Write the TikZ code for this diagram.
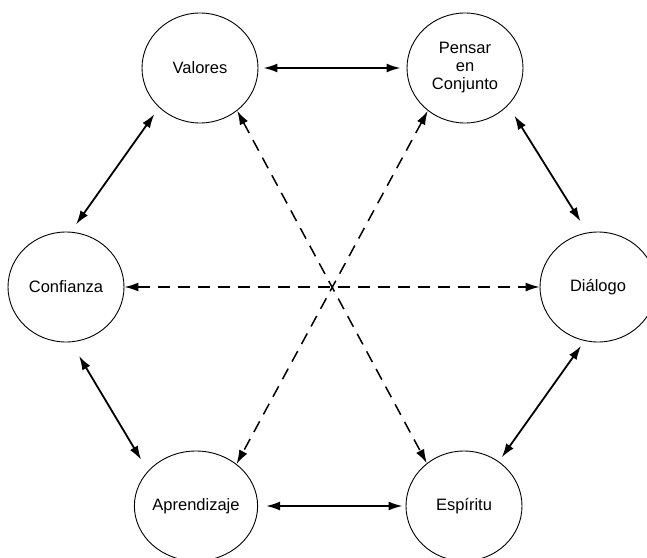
\documentclass[tikz,border=0pt]{standalone}
\usepackage{fontspec}
\setmainfont{Liberation Sans}
\usetikzlibrary{arrows.meta,shapes.geometric}

\tikzset{
  tip/.style={Latex[length=14pt,width=9pt]},
  topic/.style={ellipse, draw, line width=0.9pt, minimum width=116pt,
    minimum height=110pt, inner sep=0pt, align=center,
    font=\fontsize{16.5}{18}\selectfont},
  link/.style={line width=1.8pt, {Latex[length=14pt,width=9pt]}-{Latex[length=14pt,width=9pt]}},
  cross/.style={line width=1.5pt, dash pattern=on 12pt off 8pt,
    {Latex[length=14pt,width=9pt]}-{Latex[length=14pt,width=9pt]}}
}

\begin{document}
\begin{tikzpicture}[x=1pt,y=-1pt]
  \useasboundingbox (0,0) rectangle (647,557);
  \clip (0,0) rectangle (647,557);

  % the six topics
  \node[topic] (val) at (200,68)  {Valores};
  \node[topic] (pen) at (465,68)  {Pensar\\en\\Conjunto};
  \node[topic] (con) at (66,287)  {Confianza};
  \node[topic] (dia) at (598,287) {Diálogo};
  \node[topic] (apr) at (196,506) {Aprendizaje};
  \node[topic] (esp) at (464,506) {Espíritu};

  % links around the ring
  \draw[link, shorten <=5pt, shorten >=6pt] (val.east) -- (pen.west);
  \draw[link, shorten <=8pt, shorten >=9pt] (val.224) -- (con.85);
  \draw[link, shorten <=16pt, shorten >=13pt] (con.-85) -- (apr.144);
  \draw[link, shorten <=12pt, shorten >=13pt] (pen.-41) -- (dia.101);
  \draw[link, shorten <=6pt, shorten >=5pt] (dia.256) -- (esp.52);
  \draw[link, shorten <=8pt, shorten >=3pt] (apr.east) -- (esp.west);

  % links across the centre
  \draw[cross] (con.east) -- (dia.west);
  \draw[cross] (val.-49) -- (esp.131);
  \draw[cross] (pen.229) -- (apr.46);
\end{tikzpicture}
\end{document}
